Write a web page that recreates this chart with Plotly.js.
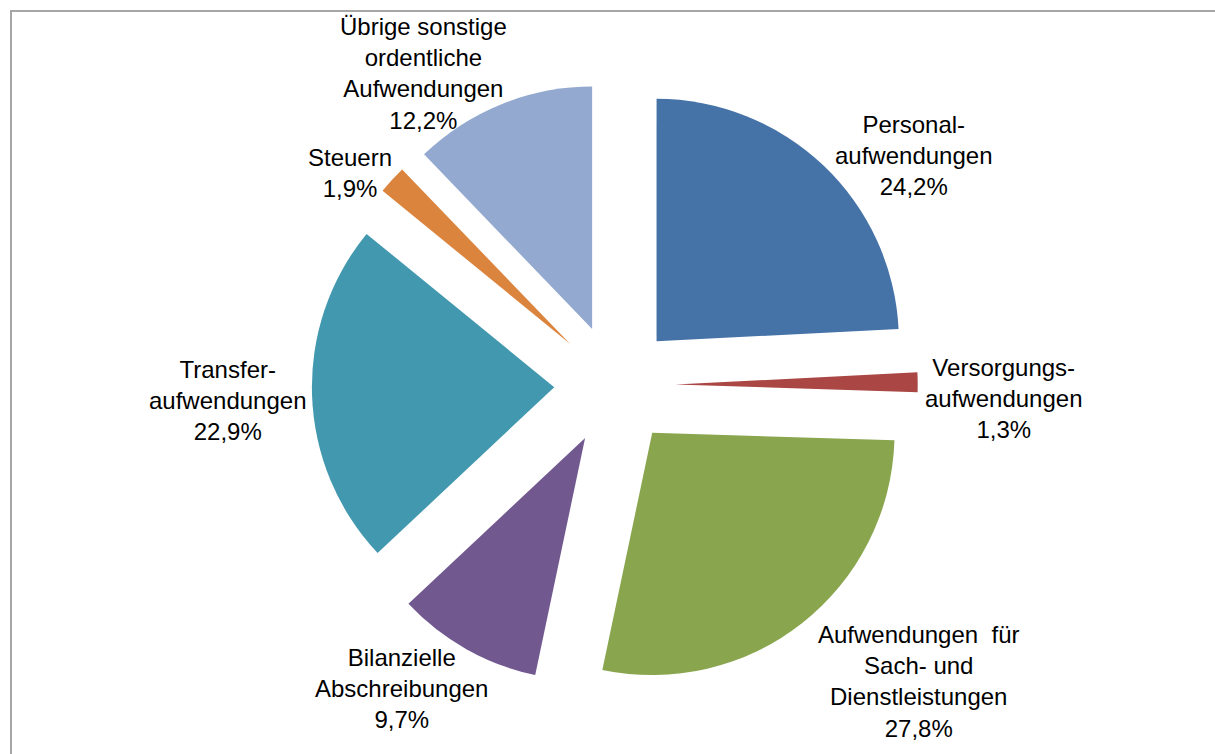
<!DOCTYPE html>
<html>
<head>
<meta charset="utf-8">
<script src="https://cdn.plot.ly/plotly-3.0.1.min.js"></script>
<style>
html,body{margin:0;padding:0;background:#fff;overflow:hidden;}
#frame{position:absolute;left:10px;top:10px;width:1300px;height:900px;border-left:2px solid #a6a6a6;border-top:2px solid #a6a6a6;pointer-events:none;z-index:5;}
#chart{width:1215px;height:754px;}
</style>
</head>
<body>
<div id="frame"></div>
<div id="chart"></div>
<script>
const categories = [
  "Personal-<br>aufwendungen",
  "Versorgungs-<br>aufwendungen",
  "Aufwendungen  für<br>Sach- und<br>Dienstleistungen",
  "Bilanzielle<br>Abschreibungen",
  "Transfer-<br>aufwendungen",
  "Steuern",
  "Übrige sonstige<br>ordentliche<br>Aufwendungen"
];
const values = [24.2, 1.3, 27.8, 9.7, 22.9, 1.9, 12.2];
const percentLabels = ["24,2%", "1,3%", "27,8%", "9,7%", "22,9%", "1,9%", "12,2%"];
const colors = ["#4572A7", "#AA4643", "#89A54E", "#71588F", "#4198AF", "#DB843D", "#93A9CF"];

// label anchor positions (pixels from top-left of the page), layout only
const labelPos = [[913, 155], [1003, 398], [918, 681], [401, 688], [227, 400], [350, 173], [423, 73]];

const W = 1215, H = 754;
const texts = categories.map((c, i) => c + "<br>" + percentLabels[i]);

const trace = {
  type: "pie",
  labels: categories,
  values: values,
  textinfo: "none",
  sort: false,
  direction: "clockwise",
  rotation: 0,
  pull: 0.25,
  marker: {colors: colors, line: {width: 0}},
  domain: {x: [0.17, 0.842], y: [0.0875, 0.891]},
  hoverinfo: "label+percent"
};

const annotations = texts.map((t, i) => ({
  text: t,
  xref: "paper", yref: "paper",
  x: labelPos[i][0] / W,
  y: 1 - labelPos[i][1] / H,
  xanchor: "center", yanchor: "middle",
  align: "center",
  showarrow: false,
  font: {family: "Liberation Sans, Arial, sans-serif", size: 24, color: "#000"}
}));

const layout = {
  width: W,
  height: H,
  margin: {l: 0, r: 0, t: 0, b: 0},
  showlegend: false,
  paper_bgcolor: "#ffffff",
  font: {family: "Liberation Sans, Arial, sans-serif", size: 24, color: "#000"},
  annotations: annotations
};

Plotly.newPlot("chart", [trace], layout, {displayModeBar: false, staticPlot: true});
</script>
</body>
</html>
